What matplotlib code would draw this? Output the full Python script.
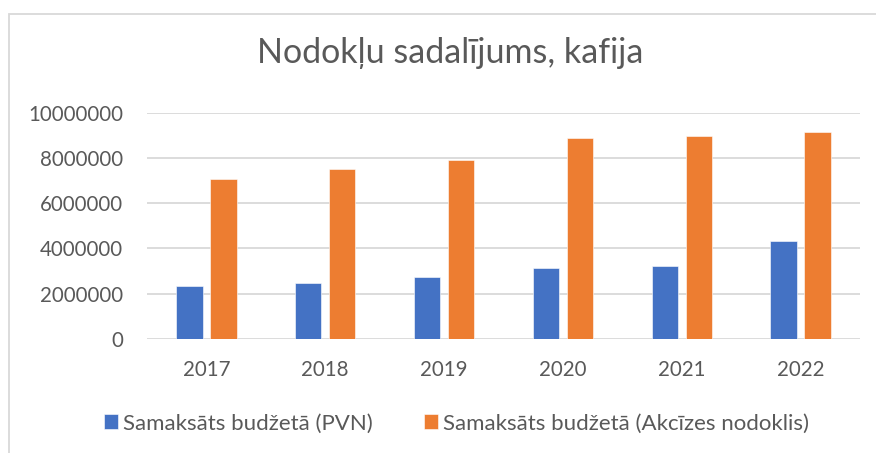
import matplotlib
matplotlib.use("Agg")
import matplotlib.pyplot as plt
from matplotlib.patches import Rectangle
import numpy as np

years = ["2017", "2018", "2019", "2020", "2021", "2022"]
pvn = [2345000, 2460000, 2730000, 3140000, 3220000, 4320000]
akcizes = [7070000, 7510000, 7920000, 8890000, 8970000, 9150000]
series_names = ["Samaksāts budžetā (PVN)", "Samaksāts budžetā (Akcīzes nodoklis)"]
title = "Nodokļu sadalījums, kafija"
yticks = [0, 2000000, 4000000, 6000000, 8000000, 10000000]

plt.rcParams['font.family'] = ['Lato', 'DejaVu Sans']
gray = '#595959'
W, H = 876, 453
fig = plt.figure(figsize=(W / 100, H / 100), dpi=100)
fig.patch.set_facecolor('white')

# chart border (left & top visible)
fig.patches.append(Rectangle((9 / W, -0.1), 1.2, 1 - 14 / H + 0.1, transform=fig.transFigure,
                             fill=False, edgecolor='#d9d9d9', linewidth=1.3))

ax = fig.add_axes([147 / W, 1 - 338.7 / H, (860 - 147) / W, (338.7 - 112.7) / H])
x = np.arange(len(years))
bw = 0.222
off = 0.143
ax.bar(x - off, pvn, bw, color='#4472C4', edgecolor='white', linewidth=0.4, zorder=3, label=series_names[0])
ax.bar(x + off, akcizes, bw, color='#ED7D31', edgecolor='white', linewidth=0.4, zorder=3, label=series_names[1])

ax.set_xlim(-0.5, len(years) - 0.5)
ax.set_ylim(0, 10000000)
ax.set_yticks(yticks)
ax.set_yticklabels([str(v) for v in yticks])
ax.set_xticks(x)
ax.set_xticklabels(years)
ax.grid(axis='y', color='#d9d9d9', linewidth=1.3, zorder=0)
ax.set_axisbelow(True)
for s in ax.spines.values():
    s.set_visible(False)
ax.tick_params(axis='both', length=0, colors=gray, labelsize=14.8)
ax.tick_params(axis='y', pad=17)
ax.tick_params(axis='x', pad=15)

fig.text(450 / W, 1 - 62.7 / H, title, ha='center', va='baseline', fontsize=24.5, color=gray)

leg = fig.legend(loc='center left', bbox_to_anchor=(104 / W, 1 - 423.5 / H), ncol=2, frameon=False,
                 fontsize=16, handlelength=0.63, handleheight=0.63, handletextpad=0.24,
                 columnspacing=2.28, borderpad=0, borderaxespad=0)
for t in leg.get_texts():
    t.set_color(gray)

fig.savefig('out.png', dpi=100, facecolor='white')
